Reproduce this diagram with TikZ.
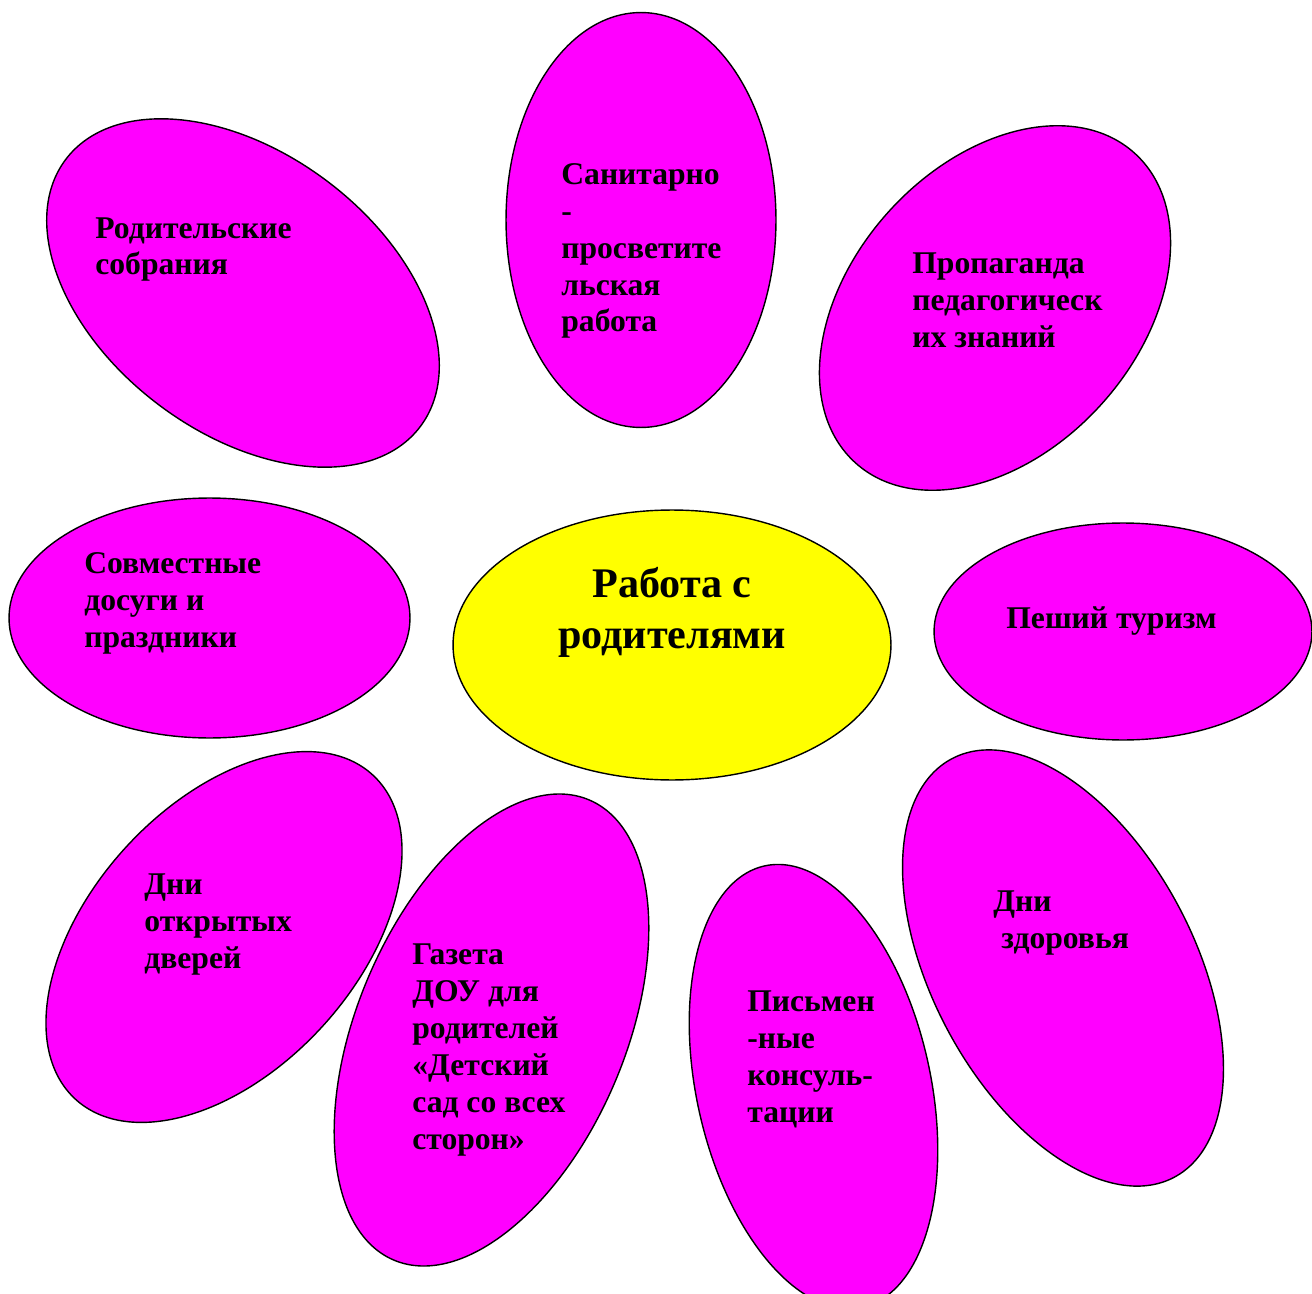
\documentclass[tikz,border=0pt]{standalone}
\usepackage{fontspec}
\setmainfont{Liberation Serif}
\usetikzlibrary{shapes.geometric}
\definecolor{petalpink}{RGB}{255,0,255}
\definecolor{coreyellow}{RGB}{255,255,0}
\tikzset{
  petal/.style={ellipse, draw=black, line width=0.8pt, fill=petalpink, inner sep=0pt},
  petaltext/.style={font=\bfseries\fontsize{18}{21}\selectfont, align=left, inner sep=0pt, anchor=base west},
  coretext/.style={font=\bfseries\fontsize{24}{28.5}\selectfont, align=center, inner sep=0pt, anchor=base}
}
\begin{document}
\begin{tikzpicture}[x=0.02cm, y=-0.02cm]
\clip (0,0) rectangle (1312,1294);

% parents meetings
\node[petal, minimum width=8.88cm, minimum height=5.6cm, rotate=-37] (pMeet) at (243,293) {};
\node[petaltext] (tMeet) at (95,275) {Родительские\\собрания};

% sanitary work
\node[petal, minimum width=5.4cm, minimum height=8.3cm] (pSan) at (641,220) {};
\node[petaltext] (tSan) at (561,332) {Санитарно\\-\\просветите\\льская\\работа};

% pedagogy
\node[petal, minimum width=8.34cm, minimum height=5.74cm, rotate=48] (pPed) at (995,308) {};
\node[petaltext] (tPed) at (912,347) {Пропаганда\\педагогическ\\их знаний};

% holidays
\node[petal, minimum width=8.02cm, minimum height=4.8cm] (pFest) at (209.5,618) {};
\node[petaltext] (tFest) at (84,647) {Совместные\\досуги и\\праздники};

% core
\node[ellipse, draw=black, line width=0.8pt, fill=coreyellow, inner sep=0pt,
      minimum width=8.76cm, minimum height=5.4cm] (core) at (672,645) {};
\node[coretext] (tCore) at (672,648) {Работа с\\родителями};

% hiking
\node[petal, minimum width=7.56cm, minimum height=4.34cm] (pHike) at (1123,631.5) {};
\node[petaltext] (tHike) at (1006,628) {Пеший туризм};

% open doors
\node[petal, minimum width=8.8cm, minimum height=5.32cm, rotate=47.5] (pDoor) at (224,937) {};
\node[petaltext] (tDoor) at (144,968) {Дни\\открытых\\дверей};

% newspaper
\node[petal, minimum width=10cm, minimum height=5.36cm, rotate=67] (pNews) at (491.5,1030) {};
\node[petaltext] (tNews) at (412,1149) {Газета\\ДОУ для\\родителей\\«Детский\\сад со всех\\сторон»};

% written advice
\node[petal, minimum width=9.04cm, minimum height=4.68cm, rotate=-77.5] (pWrit) at (813.5,1086.5) {};
\node[petaltext] (tWrit) at (747,1122) {Письмен\\-ные\\консуль-\\тации};

% health days
\node[petal, minimum width=9.48cm, minimum height=5.24cm, rotate=-62] (pHealth) at (1063,968) {};
\node[petaltext] (tHealth) at (993,948) {Дни\\\hspace*{0.16cm}здоровья};

\end{tikzpicture}
\end{document}
